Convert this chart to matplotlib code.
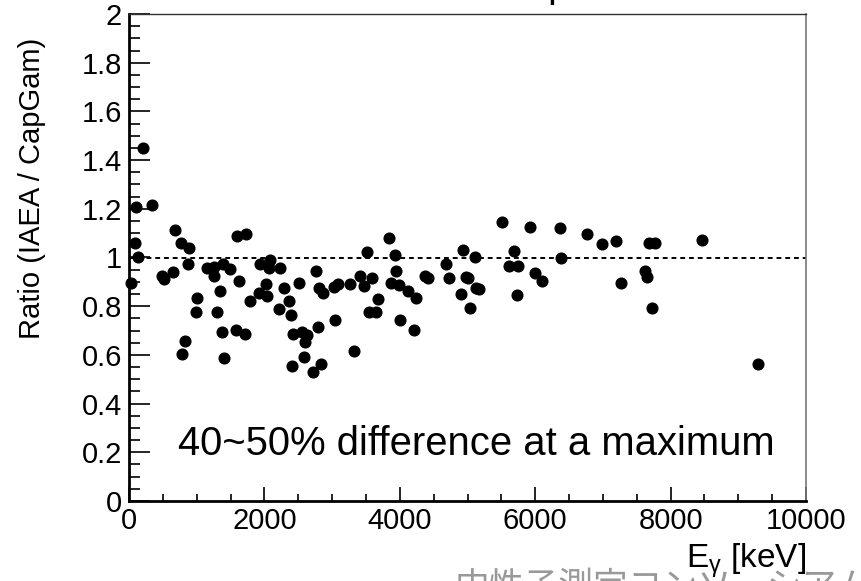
import numpy as np
import matplotlib
matplotlib.use('Agg')
import matplotlib.pyplot as plt
from matplotlib.ticker import MultipleLocator

plt.rcParams['font.family'] = ['Liberation Sans', 'DejaVu Sans']
plt.rcParams['mathtext.fontset'] = 'custom'
plt.rcParams['mathtext.rm'] = 'Liberation Sans'
plt.rcParams['mathtext.it'] = 'Liberation Sans:italic'

# gamma energy (keV) and intensity ratio IAEA / CapGam
energy = [30, 89, 103, 133, 202, 344, 490, 520, 644, 684,
          768, 783, 827, 867, 891, 994, 1004, 1147, 1250, 1260,
          1305, 1344, 1370, 1388, 1408, 1492, 1585, 1600, 1630, 1708,
          1728, 1792, 1925, 1940, 2024, 2043, 2073, 2083, 2211, 2226,
          2285, 2368, 2388, 2403, 2422, 2506, 2550, 2590, 2604, 2624,
          2722, 2757, 2787, 2806, 2831, 2870, 3028, 3047, 3092, 3264,
          3328, 3407, 3471, 3520, 3545, 3594, 3653, 3683, 3845, 3865,
          3929, 3948, 3993, 4007, 4126, 4205, 4234, 4372, 4412, 4678,
          4727, 4904, 4929, 4978, 5012, 5042, 5111, 5125, 5175, 5503,
          5608, 5687, 5727, 5745, 5928, 6002, 6105, 6371, 6381, 6770,
          6987, 7189, 7267, 7622, 7647, 7685, 7730, 7770, 8464, 9287]
ratio = [0.894, 1.058, 1.206, 1.001, 1.451, 1.214, 0.925, 0.910, 0.942, 1.112,
         1.061, 0.602, 0.657, 0.973, 1.040, 0.776, 0.832, 0.956, 0.924, 0.962,
         0.776, 0.864, 0.693, 0.973, 0.587, 0.953, 0.701, 1.087, 0.903, 0.685,
         1.097, 0.821, 0.856, 0.973, 0.890, 0.842, 0.956, 0.990, 0.787, 0.958,
         0.876, 0.823, 0.764, 0.556, 0.687, 0.894, 0.693, 0.590, 0.653, 0.682,
         0.530, 0.946, 0.716, 0.876, 0.561, 0.853, 0.880, 0.743, 0.890, 0.891,
         0.617, 0.924, 0.883, 1.024, 0.776, 0.915, 0.776, 0.828, 1.080, 0.897,
         1.009, 0.943, 0.888, 0.745, 0.864, 0.704, 0.832, 0.924, 0.917, 0.972,
         0.915, 0.850, 1.031, 0.921, 0.915, 0.793, 1.003, 0.876, 0.869, 1.145,
         0.965, 1.025, 0.846, 0.966, 1.125, 0.938, 0.902, 1.120, 0.999, 1.097,
         1.055, 1.068, 0.897, 0.946, 0.919, 1.058, 0.793, 1.058, 1.072, 0.564]

W, H = 861, 581
fig = plt.figure(figsize=(W / 100, H / 100), dpi=100)
ax = fig.add_axes([129 / W, (H - 501) / H, 677 / W, 487 / H])

ax.plot(energy, ratio, 'o', color='black', ms=7.7, clip_on=False, zorder=3)
ax.axhline(1.0, color='black', lw=1.4, ls=(0, (2.5, 2)), zorder=2)

ax.set_xlim(0, 10000)
ax.set_ylim(0, 2)
ax.xaxis.set_major_locator(MultipleLocator(2000))
ax.xaxis.set_minor_locator(MultipleLocator(500))
ax.yaxis.set_major_locator(MultipleLocator(0.2))
ax.yaxis.set_minor_locator(MultipleLocator(0.05))
ax.yaxis.set_major_formatter(plt.FuncFormatter(lambda v, p: f'{v:g}'))
ax.xaxis.set_major_formatter(plt.FuncFormatter(lambda v, p: f'{v:g}'))

ax.tick_params(axis='both', which='both', direction='in', labelsize=21,
               top=False, right=False, width=1.2, color='black')
ax.tick_params(axis='y', which='major', length=15, pad=5)
ax.tick_params(axis='y', which='minor', length=8)
ax.tick_params(axis='x', which='major', length=10, pad=4)
ax.tick_params(axis='x', which='minor', length=5)

for s in ['left', 'bottom']:
    ax.spines[s].set_linewidth(2)
ax.spines['top'].set_linewidth(1)
ax.spines['top'].set_color('#333333')
ax.spines['right'].set_linewidth(1.2)
ax.spines['right'].set_color('#777777')

ax.text(724, 0.189, '40~50% difference at a maximum', fontsize=28.8,
        ha='left', va='baseline')

fig.text(32 / W, 1 - 38 / H, 'Ratio (IAEA / CapGam)', rotation=90,
         fontsize=21, ha='center', va='top')

# cut-off title at the top and slide footer at the bottom
fig.text(466 / W, 1 + 3 / H, 'Comparison', fontsize=28, ha='left', va='baseline')
fig.text(455 / W, 1 - 570 / H, '中性子測定コンソーシアム', fontsize=25,
         color='#999999', ha='left', va='top',
         family=['Noto Sans CJK JP', 'DejaVu Sans'], zorder=0)

fig.text(806 / W, 13 / H, r'E$_{\mathrm{\gamma}}$ [keV]', fontsize=24,
         ha='right', va='baseline', zorder=5)

fig.savefig('out.png', dpi=100)
